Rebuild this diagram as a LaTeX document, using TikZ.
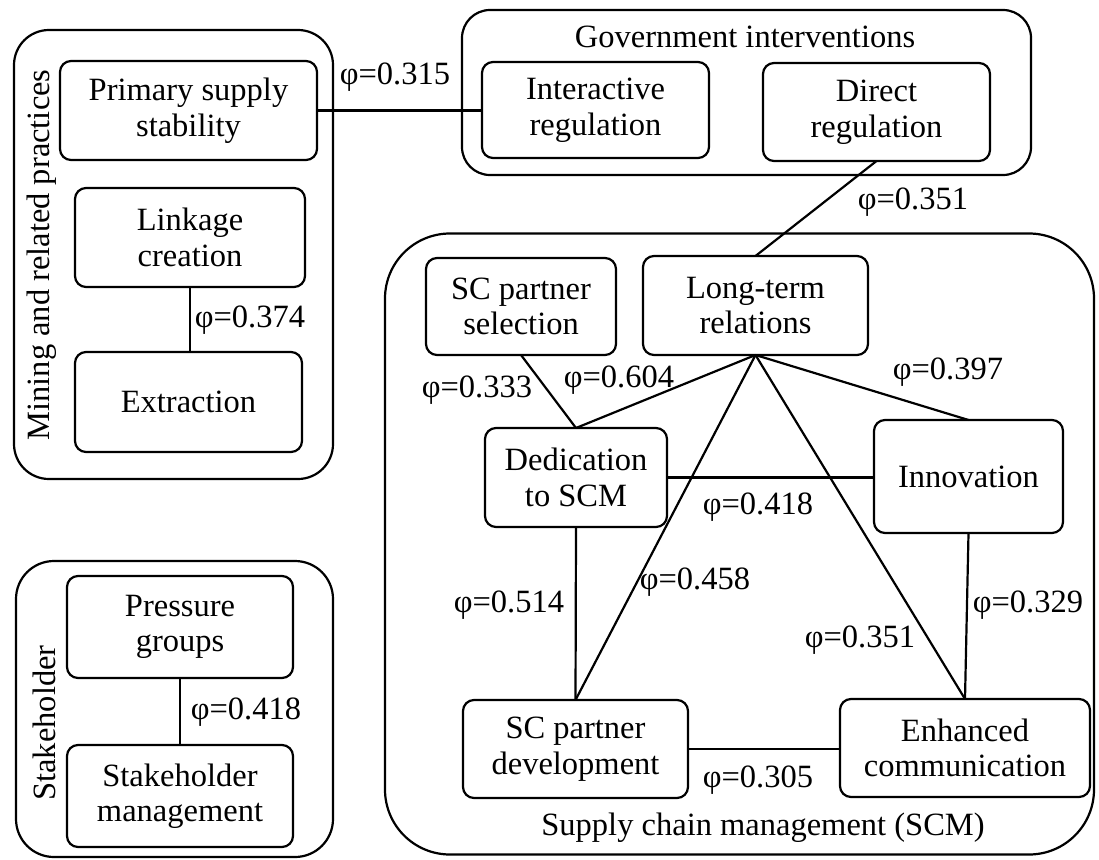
\documentclass[tikz,border=0pt]{standalone}
\usepackage{fontspec}
\setmainfont{Liberation Serif}
\newcommand\dfs{\fontsize{32.5}{35.5}\selectfont}
\tikzset{
  inbox/.style={draw, rounded corners=11pt, line width=2.2pt, align=center, inner sep=0pt, outer sep=0pt, font=\dfs},
  group/.style={draw, line width=2.2pt, inner sep=0pt, outer sep=0pt},
  lbl/.style={inner sep=0pt, font=\dfs},
  conn/.style={line width=2.2pt},
}
\begin{document}
\begin{tikzpicture}[x=1pt,y=-1pt]
\useasboundingbox (0,0) rectangle (1099,859);
% groups
\node[group, rounded corners=35pt, minimum width=319, minimum height=449] (mining) at (173.5,254.5) {};
\node[group, rounded corners=28pt, minimum width=569, minimum height=165] (gov) at (746.5,92.5) {};
\node[group, rounded corners=65pt, minimum width=709, minimum height=621] (scm) at (739.5,544) {};
\node[group, rounded corners=38pt, minimum width=317, minimum height=296] (stake) at (174.5,709) {};
% group titles
\node[lbl, rotate=90] (tmining) at (42,255) {Mining and related practices};
\node[lbl] (tgov) at (745,37) {Government interventions};
\node[lbl] (tscm) at (763,828) {Supply chain management (SCM)};
\node[lbl, rotate=90] (tstake) at (44,723) {Stakeholder};
% inner boxes
\node[inbox, minimum width=257, minimum height=99] (primary) at (188.5,110.5) {Primary supply\\stability};
\node[inbox, minimum width=230, minimum height=99] (linkage) at (190,237.5) {Linkage\\creation};
\node[inbox, minimum width=227, minimum height=100] (extraction) at (188.5,402) {Extraction};
\node[inbox, minimum width=227, minimum height=96] (interactive) at (595.5,110) {Interactive\\regulation};
\node[inbox, minimum width=227, minimum height=98] (direct) at (876.5,112) {Direct\\regulation};
\node[inbox, minimum width=190, minimum height=97] (scsel) at (521,306.5) {SC partner\\selection};
\node[inbox, minimum width=225, minimum height=99] (longterm) at (755.5,305.5) {Long-term\\relations};
\node[inbox, minimum width=182, minimum height=99] (dedication) at (576,477.5) {Dedication\\to SCM};
\node[inbox, minimum width=189, minimum height=113] (innovation) at (968.5,476.5) {Innovation};
\node[inbox, minimum width=225, minimum height=98] (scdev) at (575.5,749) {SC partner\\development};
\node[inbox, minimum width=250, minimum height=98] (enhanced) at (965,748) {Enhanced\\communication};
\node[inbox, minimum width=226, minimum height=102] (pressure) at (180,627) {Pressure\\groups};
\node[inbox, minimum width=226, minimum height=102] (stakemgmt) at (180,796) {Stakeholder\\management};
% connectors
\draw[conn] (primary.east) -- (primary.east -| interactive.west);
\draw[conn] (linkage.south) -- (linkage.south |- extraction.north);
\draw[conn] (direct.south) -- (longterm.north);
\draw[conn] (scsel.south) -- (dedication.north);
\draw[conn] (longterm.south) -- (dedication.north);
\draw[conn] (longterm.south) -- (innovation.north);
\draw[conn] (longterm.south) -- (scdev.north);
\draw[conn] (longterm.south) -- (enhanced.north);
\draw[conn] (dedication.east) -- (dedication.east -| innovation.west);
\draw[conn] (dedication.south) -- (scdev.north);
\draw[conn] (innovation.south) -- (enhanced.north);
\draw[conn] (scdev.east) -- (scdev.east -| enhanced.west);
\draw[conn] (pressure.south) -- (stakemgmt.north);
% labels
\node[lbl] (l315) at (395,77) {φ=0.315};
\node[lbl] (l374) at (250,320) {φ=0.374};
\node[lbl] (l351a) at (913,202) {φ=0.351};
\node[lbl] (l333) at (477,390) {φ=0.333};
\node[lbl] (l604) at (619,380) {φ=0.604};
\node[lbl] (l397) at (948,372) {φ=0.397};
\node[lbl] (l418a) at (758,507) {φ=0.418};
\node[lbl] (l514) at (509,605) {φ=0.514};
\node[lbl] (l458) at (695,582) {φ=0.458};
\node[lbl] (l351b) at (860,640) {φ=0.351};
\node[lbl] (l329) at (1028,605) {φ=0.329};
\node[lbl] (l305) at (758,780) {φ=0.305};
\node[lbl] (l418b) at (246,712) {φ=0.418};
\end{tikzpicture}
\end{document}
